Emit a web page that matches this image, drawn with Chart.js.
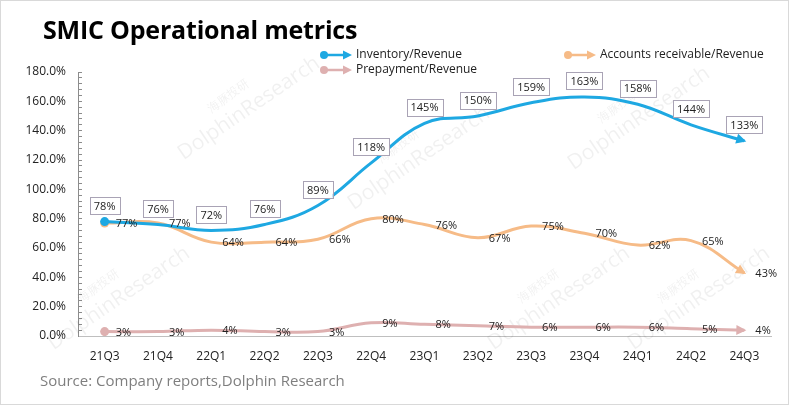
<!DOCTYPE html>
<html>
<head>
<meta charset="utf-8">
<script src="https://cdn.jsdelivr.net/npm/chart.js@4.4.1/dist/chart.umd.min.js"></script>
<style>
    html, body { margin: 0; padding: 0; background: #fff; }
    #wrap { position: relative; width: 789px; height: 405px; overflow: hidden; }
    #chart { position: absolute; left: 0; top: 0; }
    #frame { position: absolute; left: 0; top: 0; width: 787px; height: 403px; border: 1px solid #d9d9d9; pointer-events: none; }
    #title { position: absolute; left: 43px; top: 12px; font: bold 25px "Open Sans", sans-serif; color: #000; letter-spacing: -0.2px; }
    #source { position: absolute; left: 40px; top: 370px; font: 15px "Open Sans", sans-serif; color: #7f7f7f; }
</style>
</head>
<body>
<div id="wrap">
    <canvas id="chart" width="789" height="405"></canvas>
    <div id="title">SMIC Operational metrics</div>
    <div id="source">Source: Company reports,Dolphin Research</div>
    <div id="frame"></div>
</div>
<script>
// Quarterly ratios, in %
const categories = ['21Q3', '21Q4', '22Q1', '22Q2', '22Q3', '22Q4', '23Q1', '23Q2', '23Q3', '23Q4', '24Q1', '24Q2', '24Q3'];
const inventoryRatio = [78, 76, 72, 76, 89, 118, 145, 150, 159, 163, 158, 144, 133];
const receivableRatio = [77, 77, 64, 64, 66, 80, 76, 67, 75, 70, 62, 65, 43];
const prepaymentRatio = [3, 3, 4, 3, 3, 9, 8, 7, 6, 6, 6, 5, 4];
const yMin = 0;
const yMax = 180;
const yMajorStep = 20;
const yMinorStep = 4;

const FONT = '"Open Sans", sans-serif';
const colors = {
    inventory: '#1ea8e2',
    receivable: '#f6bb87',
    prepayment: '#deb0b0'
};

// start marker only on the first point
const startMarker = categories.map((c, i) => i === 0 ? 4.5 : 0);

// faint diagonal watermarks
const watermarkPlugin = {
    id: 'watermark',
    beforeDatasetsDraw(chart) {
        const ctx = chart.ctx;
        const spots = [[120, 300], [250, 110], [420, 160], [560, 300], [640, 120], [700, 300]];
        ctx.save();
        ctx.fillStyle = 'rgba(0,0,0,0.06)';
        spots.forEach(([x, y]) => {
            ctx.save();
            ctx.translate(x, y);
            ctx.rotate(-0.6);
            ctx.font = '12px ' + FONT;
            ctx.textAlign = 'center';
            ctx.fillText('海豚投研', -10, -20);
            ctx.font = '21px ' + FONT;
            ctx.fillText('DolphinResearch', 0, 4);
            ctx.restore();
        });
        ctx.restore();
    }
};

// arrow heads at the end of each line
const arrowPlugin = {
    id: 'arrows',
    afterDatasetsDraw(chart) {
        const ctx = chart.ctx;
        chart.data.datasets.forEach((ds, i) => {
            const meta = chart.getDatasetMeta(i);
            const last = meta.data[meta.data.length - 1];
            const dx = last.x - last.cp1x;
            const dy = last.y - last.cp1y;
            const len = Math.hypot(dx, dy) || 1;
            const ux = dx / len, uy = dy / len;
            const tipX = last.x + ux * 2, tipY = last.y + uy * 2;
            const baseX = tipX - ux * 10, baseY = tipY - uy * 10;
            ctx.save();
            ctx.fillStyle = ds.borderColor;
            ctx.beginPath();
            ctx.moveTo(tipX, tipY);
            ctx.lineTo(baseX - uy * 5, baseY + ux * 5);
            ctx.lineTo(baseX + uy * 5, baseY - ux * 5);
            ctx.closePath();
            ctx.fill();
            ctx.restore();
        });
    }
};

// value labels: boxed above for inventory, plain right of point for the others
const valueLabelPlugin = {
    id: 'valueLabels',
    afterDatasetsDraw(chart) {
        const ctx = chart.ctx;
        ctx.save();
        ctx.font = '11px ' + FONT;
        ctx.fillStyle = '#222';
        ctx.textBaseline = 'middle';
        chart.data.datasets.forEach((ds, i) => {
            const meta = chart.getDatasetMeta(i);
            meta.data.forEach((pt, j) => {
                const text = ds.data[j] + '%';
                if (ds.labelStyle === 'box') {
                    const w = ctx.measureText(text).width + 8;
                    const h = 17;
                    const cx = pt.x, cy = pt.y - 16;
                    ctx.fillStyle = '#fff';
                    ctx.fillRect(cx - w / 2, cy - h / 2, w, h);
                    ctx.strokeStyle = '#a9a3b5';
                    ctx.lineWidth = 1;
                    ctx.strokeRect(Math.round(cx - w / 2) + 0.5, Math.round(cy - h / 2) + 0.5, Math.round(w), h);
                    ctx.fillStyle = '#222';
                    ctx.textAlign = 'center';
                    ctx.fillText(text, cx, cy + 1);
                } else {
                    ctx.textAlign = 'left';
                    ctx.fillText(text, pt.x + 11, pt.y + 1);
                }
            });
        });
        ctx.restore();
    }
};

// legend drawn with the same circle-line-arrow symbol as the series
const legendPlugin = {
    id: 'customLegend',
    afterDraw(chart) {
        const ctx = chart.ctx;
        const slots = [[324, 55], [568, 55], [324, 70]];
        ctx.save();
        ctx.font = '12px ' + FONT;
        ctx.textBaseline = 'middle';
        chart.data.datasets.forEach((ds, i) => {
            const [x, y] = slots[i];
            ctx.strokeStyle = ds.borderColor;
            ctx.fillStyle = ds.borderColor;
            ctx.lineWidth = 2.5;
            ctx.beginPath();
            ctx.moveTo(x, y);
            ctx.lineTo(x + 20, y);
            ctx.stroke();
            ctx.beginPath();
            ctx.arc(x, y, 4, 0, Math.PI * 2);
            ctx.fill();
            ctx.beginPath();
            ctx.moveTo(x + 28, y);
            ctx.lineTo(x + 19, y - 4.5);
            ctx.lineTo(x + 19, y + 4.5);
            ctx.closePath();
            ctx.fill();
            ctx.fillStyle = '#222';
            ctx.textAlign = 'left';
            ctx.fillText(ds.label, x + 32, y);
        });
        ctx.restore();
    }
};

function makeSeries(label, data, color, labelStyle) {
    return {
        label: label,
        data: data,
        borderColor: color,
        backgroundColor: color,
        borderWidth: 3,
        tension: 0.4,
        pointRadius: startMarker,
        pointHoverRadius: 0,
        pointBorderWidth: 0,
        fill: false,
        labelStyle: labelStyle
    };
}

const ctx = document.getElementById('chart').getContext('2d');
new Chart(ctx, {
    type: 'line',
    data: {
        labels: categories,
        datasets: [
            makeSeries('Inventory/Revenue', inventoryRatio, colors.inventory, 'box'),
            makeSeries('Accounts receivable/Revenue', receivableRatio, colors.receivable, 'right'),
            makeSeries('Prepayment/Revenue', prepaymentRatio, colors.prepayment, 'right')
        ]
    },
    options: {
        responsive: false,
        animation: false,
        layout: { padding: { left: 0, right: 18, top: 72, bottom: 0 } },
        plugins: {
            legend: { display: false },
            tooltip: { enabled: false }
        },
        scales: {
            x: {
                offset: true,
                grid: { display: false, drawTicks: false },
                border: { color: '#bfbfbf', width: 1 },
                ticks: {
                    color: '#222',
                    font: { family: FONT, size: 12 },
                    padding: 13,
                    maxRotation: 0,
                    autoSkip: false
                },
                afterFit: (scale) => { scale.height = 405 - 336; }
            },
            y: {
                min: yMin,
                max: yMax,
                grid: {
                    drawOnChartArea: false,
                    drawTicks: true,
                    tickLength: -4,
                    tickColor: '#8c8c8c'
                },
                border: { color: '#8c8c8c', width: 1 },
                ticks: {
                    stepSize: yMinorStep,
                    autoSkip: false,
                    color: '#222',
                    font: { family: FONT, size: 12 },
                    padding: 16,
                    callback: (v) => v % yMajorStep === 0 ? v.toFixed(1) + '%' : ''
                },
                afterFit: (scale) => { scale.width = 78; }
            }
        }
    },
    plugins: [watermarkPlugin, arrowPlugin, valueLabelPlugin, legendPlugin]
});
</script>
</body>
</html>
